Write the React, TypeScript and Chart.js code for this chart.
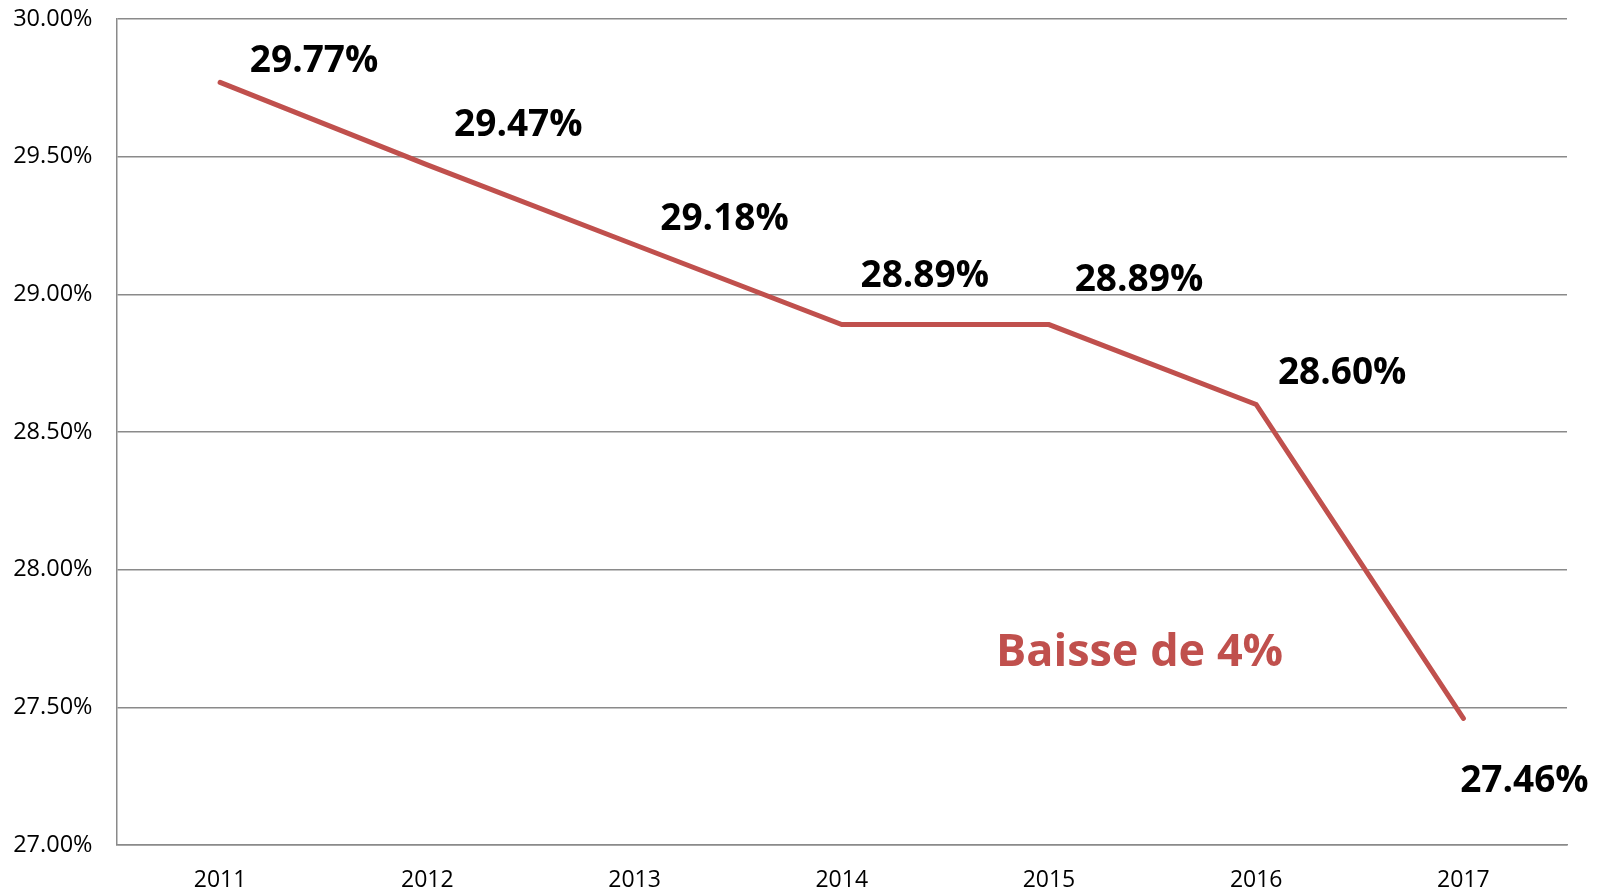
import React, { useEffect, useRef } from "react";
import { Chart, registerables } from "chart.js";

Chart.register(...registerables);

const years = ["2011", "2012", "2013", "2014", "2015", "2016", "2017"];
const rates = [29.77, 29.47, 29.18, 28.89, 28.89, 28.6, 27.46];
const rateLabels = ["29.77%", "29.47%", "29.18%", "28.89%", "28.89%", "28.60%", "27.46%"];
// label offsets from each point (dx, dy) in px
const labelDX = [94, 91, 90, 83, 90, 86, 61];
const labelDY = [-21, -39, -25, -48, -44, -31, 63];
const annotationText = "Baisse de 4%";

const RED = "#C0504D";
const FONT = "'Open Sans', 'Noto Sans', sans-serif";

const labelPlugin = {
  id: "valueLabels",
  afterDatasetsDraw(chart: any) {
    const ctx = chart.ctx;
    const meta = chart.getDatasetMeta(0);
    ctx.save();
    ctx.font = `bold 37px ${FONT}`;
    ctx.fillStyle = "#000";
    ctx.textAlign = "center";
    ctx.textBaseline = "middle";
    meta.data.forEach((pt: any, i: number) => {
      ctx.fillText(rateLabels[i], pt.x + labelDX[i], pt.y + labelDY[i]);
    });
    // annotation
    const xs = chart.scales.x;
    const ys = chart.scales.y;
    const ax = (xs.getPixelForValue(4) + xs.getPixelForValue(5)) / 2 - 13;
    const ay = ys.getPixelForValue(27.695);
    ctx.font = `bold 45px ${FONT}`;
    ctx.fillStyle = RED;
    ctx.fillText(annotationText, ax, ay);
    ctx.restore();
  },
};

export default function App() {
  const ref = useRef<HTMLCanvasElement>(null);
  useEffect(() => {
    const chart = new Chart(ref.current!, {
      type: "line",
      data: {
        labels: years,
        datasets: [
          {
            data: rates,
            borderColor: RED,
            borderWidth: 5,
            pointRadius: 0,
            tension: 0,
            borderCapStyle: "round",
            borderJoinStyle: "miter",
          },
        ],
      },
      options: {
        animation: false,
        responsive: false,
        layout: { padding: { top: 19, right: 33, left: 0, bottom: 0 } },
        plugins: { legend: { display: false }, tooltip: { enabled: false } },
        scales: {
          x: {
            offset: true,
            grid: { display: false, drawTicks: false },
            border: { display: true, color: "#8a8a8a", width: 1.5 },
            ticks: { color: "#000", font: { family: FONT, size: 23 }, padding: 22, maxRotation: 0 },
            afterFit: (s: any) => { s.height = 48; },
          },
          y: {
            min: 27,
            max: 30,
            grid: {
              color: "#8a8a8a",
              lineWidth: 1.5,
              drawTicks: true,
              tickLength: 24,
              tickColor: "rgba(0,0,0,0)",
            },
            border: { display: true, color: "#8a8a8a", width: 1.5 },
            ticks: {
              stepSize: 0.5,
              color: "#000",
              padding: 0,
              font: { family: FONT, size: 23.5 },
              callback: (v: any) => Number(v).toFixed(2) + "%",
            },
            afterFit: (s: any) => { s.width = 116.5; },
          },
        },
      },
      plugins: [labelPlugin],
    });
    return () => chart.destroy();
  }, []);
  return (
    <div style={{ position: "fixed", left: 0, top: 0, width: 1600, height: 893, background: "#fff" }}>
      <canvas ref={ref} width={1600} height={893} style={{ display: "block" }} />
    </div>
  );
}
